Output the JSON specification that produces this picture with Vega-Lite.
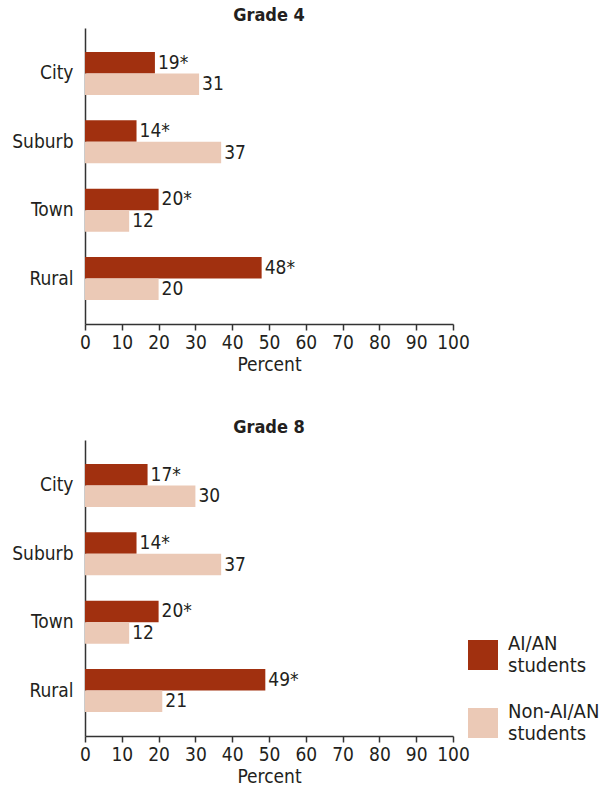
{
  "$schema": "https://vega.github.io/schema/vega-lite/v6.json",
  "padding": {"left": 11, "top": 7, "right": 0, "bottom": 0},
  "config": {
    "font": "DejaVu Sans Condensed, DejaVu Sans, sans-serif",
    "view": {"stroke": null},
    "axis": {
      "labelFontSize": 19,
      "labelColor": "#231F20",
      "titleFontSize": 19,
      "titleFontWeight": "normal",
      "titleColor": "#231F20",
      "domainColor": "#333333",
      "tickColor": "#333333",
      "domainWidth": 1.5,
      "tickWidth": 1.5,
      "grid": false
    },
    "title": {"fontSize": 18, "fontWeight": "bold", "color": "#231F20", "offset": 3},
    "concat": {"spacing": 45}
  },
  "datasets": {
    "d": [
      {"grade": "Grade 4", "location": "City", "group": "AI/AN students", "percent": 19, "label": "19*"},
      {"grade": "Grade 4", "location": "City", "group": "Non-AI/AN students", "percent": 31, "label": "31"},
      {"grade": "Grade 4", "location": "Suburb", "group": "AI/AN students", "percent": 14, "label": "14*"},
      {"grade": "Grade 4", "location": "Suburb", "group": "Non-AI/AN students", "percent": 37, "label": "37"},
      {"grade": "Grade 4", "location": "Town", "group": "AI/AN students", "percent": 20, "label": "20*"},
      {"grade": "Grade 4", "location": "Town", "group": "Non-AI/AN students", "percent": 12, "label": "12"},
      {"grade": "Grade 4", "location": "Rural", "group": "AI/AN students", "percent": 48, "label": "48*"},
      {"grade": "Grade 4", "location": "Rural", "group": "Non-AI/AN students", "percent": 20, "label": "20"},
      {"grade": "Grade 8", "location": "City", "group": "AI/AN students", "percent": 17, "label": "17*"},
      {"grade": "Grade 8", "location": "City", "group": "Non-AI/AN students", "percent": 30, "label": "30"},
      {"grade": "Grade 8", "location": "Suburb", "group": "AI/AN students", "percent": 14, "label": "14*"},
      {"grade": "Grade 8", "location": "Suburb", "group": "Non-AI/AN students", "percent": 37, "label": "37"},
      {"grade": "Grade 8", "location": "Town", "group": "AI/AN students", "percent": 20, "label": "20*"},
      {"grade": "Grade 8", "location": "Town", "group": "Non-AI/AN students", "percent": 12, "label": "12"},
      {"grade": "Grade 8", "location": "Rural", "group": "AI/AN students", "percent": 49, "label": "49*"},
      {"grade": "Grade 8", "location": "Rural", "group": "Non-AI/AN students", "percent": 21, "label": "21"}
    ]
  },
  "resolve": {"legend": {"color": "independent"}},
  "vconcat": [
    {
      "title": {"text": "Grade 4", "anchor": "middle"},
      "width": 368,
      "height": 296,
      "data": {"name": "d"},
      "transform": [{"filter": "datum.grade == 'Grade 4'"}],
      "encoding": {
        "y": {
          "field": "location", "type": "nominal",
          "sort": ["City", "Suburb", "Town", "Rural"],
          "scale": {"paddingInner": 0.37, "paddingOuter": 0.35},
          "axis": {"title": null, "ticks": false, "labelPadding": 12}
        },
        "yOffset": {"field": "group", "type": "nominal", "sort": ["AI/AN students", "Non-AI/AN students"]},
        "x": {
          "field": "percent", "type": "quantitative",
          "scale": {"domain": [0, 100]},
          "axis": {"title": "Percent", "values": [0, 10, 20, 30, 40, 50, 60, 70, 80, 90, 100], "tickSize": 6, "labelPadding": 3, "titlePadding": 3, "labelFlush": false}
        }
      },
      "layer": [
        {
          "mark": {"type": "bar"},
          "encoding": {
            "color": {
              "field": "group", "type": "nominal",
              "scale": {"domain": ["AI/AN students", "Non-AI/AN students"], "range": ["#A1300F", "#EBC9B6"]},
              "legend": null
            }
          }
        },
        {
          "mark": {"type": "text", "align": "left", "baseline": "middle", "dx": 3, "fontSize": 19, "color": "#231F20"},
          "encoding": {"text": {"field": "label"}}
        }
      ]
    },
    {
      "title": {"text": "Grade 8", "anchor": "middle"},
      "width": 368,
      "height": 296,
      "data": {"name": "d"},
      "transform": [{"filter": "datum.grade == 'Grade 8'"}],
      "encoding": {
        "y": {
          "field": "location", "type": "nominal",
          "sort": ["City", "Suburb", "Town", "Rural"],
          "scale": {"paddingInner": 0.37, "paddingOuter": 0.35},
          "axis": {"title": null, "ticks": false, "labelPadding": 12}
        },
        "yOffset": {"field": "group", "type": "nominal", "sort": ["AI/AN students", "Non-AI/AN students"]},
        "x": {
          "field": "percent", "type": "quantitative",
          "scale": {"domain": [0, 100]},
          "axis": {"title": "Percent", "values": [0, 10, 20, 30, 40, 50, 60, 70, 80, 90, 100], "tickSize": 6, "labelPadding": 3, "titlePadding": 3, "labelFlush": false}
        }
      },
      "layer": [
        {
          "mark": {"type": "bar"},
          "encoding": {
            "color": {
              "field": "group", "type": "nominal",
              "scale": {"domain": ["AI/AN students", "Non-AI/AN students"], "range": ["#A1300F", "#EBC9B6"]},
              "legend": {
                "title": null,
                "orient": "none",
                "legendX": 383,
                "legendY": 200,
                "symbolType": "square",
                "symbolSize": 900,
                "symbolStrokeWidth": 0,
                "symbolOpacity": 1,
                "labelFontSize": 20,
                "labelColor": "#231F20",
                "labelOffset": 10,
                "labelLimit": 200,
                "labelBaseline": "line-bottom",
                "rowPadding": 26,
                "labelExpr": "split(datum.label, ' ')"
              }
            }
          }
        },
        {
          "mark": {"type": "text", "align": "left", "baseline": "middle", "dx": 3, "fontSize": 19, "color": "#231F20"},
          "encoding": {"text": {"field": "label"}}
        }
      ]
    }
  ]
}
